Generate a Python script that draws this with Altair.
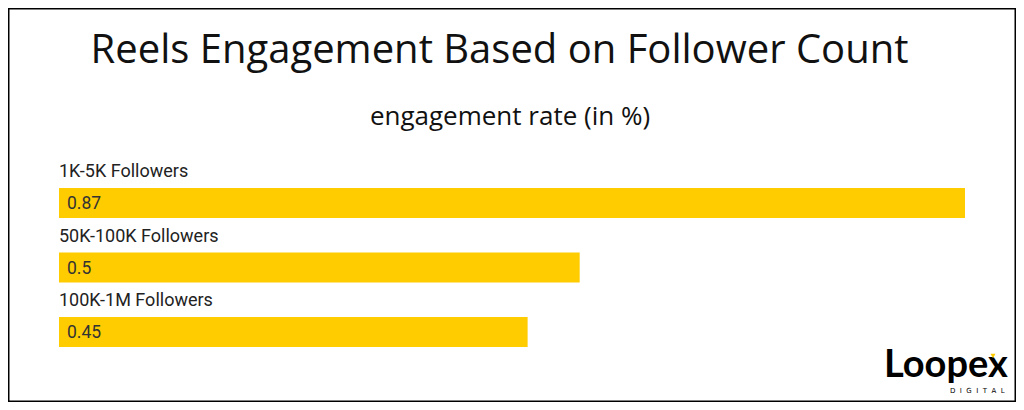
import altair as alt
import pandas as pd

categories = ["1K-5K Followers", "50K-100K Followers", "100K-1M Followers"]
values = [0.87, 0.5, 0.45]
title_text = "Reels Engagement Based on Follower Count"
subtitle_text = "engagement rate (in %)"
logo_text = "Loopex"
logo_sub = "D\u00a0 I\u00a0 G\u00a0 I\u00a0 T\u00a0 A\u00a0 L"

df = pd.DataFrame({"label": categories, "value": values})

W, H = 906, 159
ysc = alt.Scale(domain=categories, paddingInner=0.535, paddingOuter=0)
xsc = alt.Scale(domain=[0, max(values)], nice=False, zero=True)

base = alt.Chart(df)
bars = base.mark_bar(color="#FFCC00").encode(
    x=alt.X("value:Q", scale=xsc, axis=None),
    y=alt.Y("label:N", scale=ysc, axis=None),
)
cat_labels = base.mark_text(
    align="left", baseline="alphabetic", dy=-11, font="Roboto", fontSize=18, color="#222222"
).encode(
    y=alt.Y("label:N", scale=ysc, axis=None, bandPosition=0),
    x=alt.value(0),
    text="label:N",
)
val_labels = base.mark_text(
    align="left", baseline="middle", dx=8, dy=1, font="Roboto", fontSize=17.5, color="#333333"
).encode(
    y=alt.Y("label:N", scale=ysc, axis=None),
    x=alt.value(0),
    text=alt.Text("value:Q"),
)


def txt(s, x, y, **kw):
    return alt.Chart(pd.DataFrame({"t": [s]})).mark_text(**kw).encode(
        text="t:N", x=alt.value(x), y=alt.value(y)
    )


title = txt(title_text, 440.5, -125, align="center", baseline="alphabetic",
            font="Open Sans", fontSize=40, color="#111111")
subtitle = txt(subtitle_text, 451, -63, align="center", baseline="alphabetic",
               font="Open Sans", fontSize=26, color="#111111")
logo = txt(logo_text, 825, 189, align="left", baseline="alphabetic",
           font="Lato", fontSize=38, fontWeight="bold", color="#000000")
logo2 = txt(logo_sub, 891, 205, align="left", baseline="alphabetic",
            font="DejaVu Sans", fontSize=7, color="#000000")
accent = alt.Chart(pd.DataFrame({"t": [1]})).mark_point(
    shape="triangle-down", filled=True, color="#FFCC00", size=25, opacity=1
).encode(x=alt.value(934), y=alt.value(168))

border = alt.Chart(pd.DataFrame({"t": [1]})).mark_rect(
    fill="transparent", stroke="#000000", strokeWidth=1.5
).encode(x=alt.value(-50.25), x2=alt.value(956.25), y=alt.value(-179.25), y2=alt.value(213.25))

chart = alt.layer(border, bars, cat_labels, val_labels, title, subtitle, logo, logo2, accent).properties(
    width=W,
    height=H,
    autosize=alt.AutoSizeParams(type="none"),
    padding={"left": 51, "top": 180, "right": 51, "bottom": 55},
    background="white",
).configure_view(stroke=None)

chart.save("out.html", embed_options={"renderer": "svg", "actions": False})
